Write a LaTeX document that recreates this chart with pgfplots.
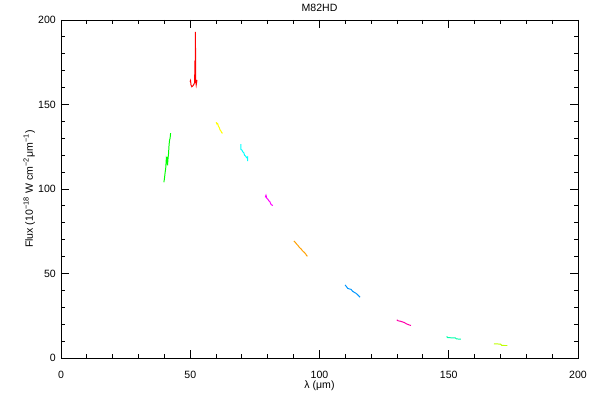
\documentclass[border=0pt]{standalone}
\usepackage{fontspec}
\setmainfont{Liberation Sans}
\usepackage{pgfplots}
\pgfplotsset{compat=1.18}
\definecolor{cGreen}{RGB}{0,255,0}
\definecolor{cRed}{RGB}{255,0,0}
\definecolor{cYellow}{RGB}{255,255,0}
\definecolor{cCyan}{RGB}{0,255,255}
\definecolor{cMagenta}{RGB}{255,0,255}
\definecolor{cOrange}{RGB}{255,160,0}
\definecolor{cBlue}{RGB}{0,150,255}
\definecolor{cPink}{RGB}{255,0,170}
\definecolor{cSpring}{RGB}{0,255,170}
\definecolor{cLime}{RGB}{190,255,0}
\begin{document}
\begin{tikzpicture}
\fontsize{7.5}{9}\selectfont
\begin{axis}[
  scale only axis,
  width=12.925cm, height=8.45cm,
  xmin=0, xmax=200, ymin=0, ymax=200,
  xtick={0,50,...,200}, ytick={0,50,...,200},
  minor xtick={10,20,...,190}, minor ytick={10,20,...,190},
  tick align=inside,
  major tick length=0.2cm, minor tick length=0.1cm,
  tick style={black, line width=0.7pt},
  axis line style={line width=0.7pt},
  /pgf/number format/assume math mode=true,
  ticklabel style={font=\fontsize{7.5}{9}\selectfont},
  xticklabel style={yshift=-7pt},
  yticklabel style={xshift=-1pt},
  label style={font=\fontsize{7.5}{9}\selectfont},
  xlabel={λ (μm)},
  ylabel={Flux (10\textsuperscript{−18} W cm\textsuperscript{−2}μm\textsuperscript{−1})},
  xlabel style={at={(axis description cs:0.5,0)}, anchor=center, yshift=-19.5pt},
  ylabel style={yshift=-3pt},
  title={M82HD},
  title style={font=\fontsize{7.5}{9}\selectfont, yshift=-3pt},
  every axis plot/.append style={line width=0.7pt},
]
\addplot[cGreen] coordinates {(39.8,104) (40.0,106) (40.3,110) (40.5,112) (40.7,117) (40.9,115) (41.0,119) (41.2,114) (41.4,118) (41.6,121) (41.8,126) (42.0,129) (42.2,130) (42.4,133)};
\addplot[cRed] coordinates {(49.9,163.5) (50.1,164.2) (50.3,161.5) (50.6,160.5) (51.0,161) (51.4,162) (51.7,163) (51.8,176) (51.9,163) (52.0,193) (52.1,164) (52.3,161.5) (52.5,163.5) (52.6,164.5)};
\addplot[cYellow] coordinates {(60.0,139.5) (60.3,138.5) (60.6,138.8) (60.9,137) (61.2,136.5) (61.5,135) (61.8,134.5) (62.1,133.5) (62.5,132.9)};
\addplot[cCyan] coordinates {(69.6,126.5) (69.6,123.5) (70.0,123) (70.3,122) (70.7,121.5) (71.0,120) (71.4,119.5) (71.8,118.5) (72.2,119) (72.2,116.5)};
\addplot[cMagenta] coordinates {(79.0,95) (79.3,96.3) (79.6,94.5) (80.0,94) (80.4,93) (80.8,92.5) (81.2,91) (81.6,90.5) (81.9,90.2)};
\addplot[cOrange] coordinates {(90.1,69.2) (90.6,68.5) (91.1,67.5) (91.7,66.5) (92.3,65.3) (92.9,64.5) (93.5,63.3) (94.1,62.5) (94.7,61.5) (95.0,60.5) (95.4,60.3)};
\addplot[cBlue] coordinates {(109.9,43.2) (110.4,42.3) (110.9,41.2) (111.5,40.9) (112.2,40.6) (112.8,39.5) (113.5,38.8) (114.2,38.2) (114.9,37.2) (115.7,36.0)};
\addplot[cPink] coordinates {(129.9,22.6) (130.4,22.0) (131.2,21.8) (132.0,21.4) (132.8,21.0) (133.5,20.3) (134.3,19.8) (135.0,19.4) (135.4,19.3)};
\addplot[cSpring] coordinates {(149.2,12.7) (149.6,12.1) (150.5,12.0) (151.5,11.9) (152.5,11.9) (153.0,11.3) (154.0,11.2) (154.7,11.2)};
\addplot[cLime] coordinates {(167.5,8.4) (169.0,8.3) (170.0,8.2) (170.5,7.5) (171.5,7.4) (172.7,7.4)};
\end{axis}
\pgfresetboundingbox
\path[use as bounding box] ([xshift=-1.525cm,yshift=-1.05cm]current axis.south west) rectangle ([xshift=0.55cm,yshift=0.5cm]current axis.north east);
\end{tikzpicture}
\end{document}
